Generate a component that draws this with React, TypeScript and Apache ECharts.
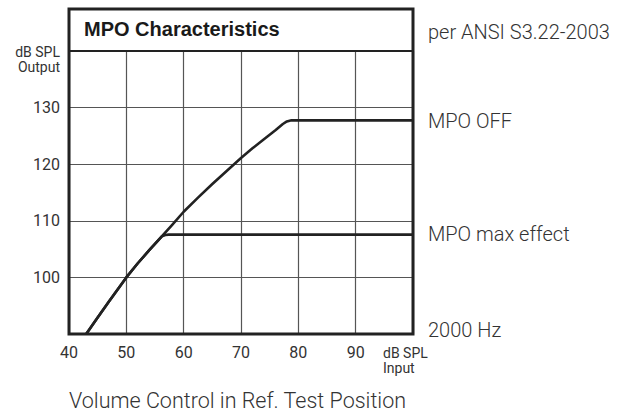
import React, { useEffect, useRef } from "react";
import * as echarts from "echarts";

const xTicks = [40, 50, 60, 70, 80, 90];
const yTicks = [100, 110, 120, 130];
const mpoOff: [number, number][] = [
  [43, 90], [45, 92.9], [47, 95.8], [50, 100], [52, 102.5], [54, 104.8],
  [56.5, 107.6], [58, 109.3], [60, 111.6], [62.5, 114.1], [65, 116.5],
  [67.5, 118.8], [70, 121.1], [72, 122.8], [74, 124.4], [76, 126.0],
  [77.3, 127.1], [78, 127.55], [78.8, 127.75], [100, 127.75],
];
const mpoMax: [number, number][] = [
  [43, 90], [45, 92.9], [47, 95.8], [50, 100], [52, 102.5], [54, 104.8],
  [56.2, 107.25], [56.8, 107.5], [57.4, 107.55], [100, 107.55],
];
const rightLabels = ["per ANSI S3.22-2003", "MPO OFF", "MPO max effect", "2000 Hz"];

export default function App() {
  const ref = useRef<HTMLDivElement>(null);
  useEffect(() => {
    if (!ref.current) return;
    const chart = echarts.init(ref.current, undefined, { renderer: "svg" });
    const txt = "#333";
    const font = "Roboto, 'Liberation Sans', Arial, sans-serif";
    const sideText = (t: string, y: number) => ({
      type: "text", x: 428, y,
      style: { text: t, fontSize: 20, fontWeight: 300, fontFamily: font, fill: txt, align: "left", verticalAlign: "middle" },
    });
    const small = (t: string, x: number, y: number, align: string) => ({
      type: "text", x, y,
      style: { text: t, fontSize: 14, lineHeight: 15, fontFamily: font, fill: txt, align, verticalAlign: "middle" },
    });
    chart.setOption({
      animation: false,
      grid: { left: 69, right: 211, top: 51, bottom: 78 },
      xAxis: {
        type: "value", min: 40, max: 100, interval: 10,
        axisLine: { show: false }, axisTick: { show: false },
        splitLine: { show: true, lineStyle: { color: "#555", width: 1.2 } },
        axisLabel: {
          color: txt, fontSize: 16, fontFamily: font, margin: 10,
          formatter: (v: number) => (xTicks.includes(v) ? String(v) : ""),
        },
      },
      yAxis: {
        type: "value", min: 90, max: 140, interval: 10,
        axisLine: { show: false }, axisTick: { show: false },
        splitLine: { show: true, lineStyle: { color: "#555", width: 1.2 } },
        axisLabel: {
          color: txt, fontSize: 16, fontFamily: font, margin: 9,
          formatter: (v: number) => (yTicks.includes(v) ? String(v) : ""),
        },
      },
      series: [
        {
          type: "line", data: mpoOff, showSymbol: false, silent: true,
          lineStyle: { color: "#222", width: 2.6, join: "round" },
        },
        {
          type: "line", data: mpoMax, showSymbol: false, silent: true,
          lineStyle: { color: "#222", width: 2.6, join: "round" },
        },
      ],
      graphic: [
        {
          type: "rect", shape: { x: 69, y: 9, width: 344, height: 325 }, z: 100,
          style: { fill: "none", stroke: "#222", lineWidth: 3 },
        },
        {
          type: "line", shape: { x1: 69, y1: 51, x2: 413, y2: 51 }, z: 100,
          style: { stroke: "#222", lineWidth: 2 },
        },
        {
          type: "text", left: 84, top: 19,
          style: {
            text: "MPO Characteristics", fontSize: 20, fontWeight: "bold",
            fontFamily: "'Liberation Sans', Arial, sans-serif", fill: "#1a1a1a",
          },
        },
        sideText(rightLabels[0], 32),
        sideText(rightLabels[1], 121),
        sideText(rightLabels[2], 234),
        sideText(rightLabels[3], 330),
        small("dB SPL\nOutput", 60, 59, "right"),
        small("dB SPL\nInput", 383, 360.5, "left"),
        {
          type: "text", x: 69, y: 400,
          style: {
            text: "Volume Control in Ref. Test Position", fontSize: 21.5, fontWeight: 300,
            fontFamily: font, fill: txt, align: "left", verticalAlign: "middle",
          },
        },
      ],
    });
    return () => chart.dispose();
  }, []);
  return <div ref={ref} style={{ width: 624, height: 412, position: "absolute", left: 0, top: 0 }} />;
}
